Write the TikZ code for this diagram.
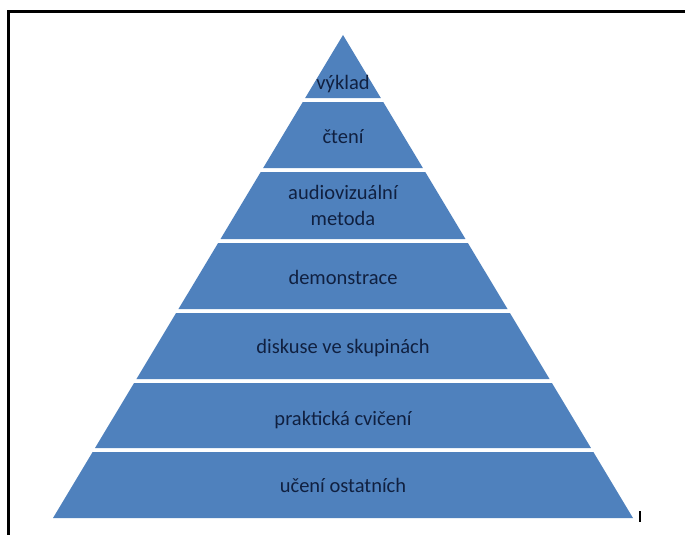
\documentclass[tikz,border=0pt]{standalone}
\usepackage{fontspec}
\setmainfont{Carlito}
\definecolor{pyr}{HTML}{4F81BD}
\definecolor{txt}{HTML}{102040}
\newcommand\pyrlayer[2]{\fill[pyr] ({343-(#1-35)*0.6004},#1) -- ({343+(#1-35)*0.6004},#1) -- ({343+(#2-35)*0.6004},#2) -- ({343-(#2-35)*0.6004},#2) -- cycle;}
\begin{document}
\begin{tikzpicture}[x=1pt,y=-1pt,
  lbl/.style={font=\fontsize{20.5}{26}\selectfont, text=txt, anchor=base, align=center, inner sep=0pt},
  frame/.style={draw=black, line width=2.5pt}]
\useasboundingbox (0,0) rectangle (685,535);
\fill[white] (0,0) rectangle (685,535);
% frame
\coordinate (fb) at (8.5,535);
\coordinate (fc) at (8.5,11.5);
\coordinate (fr) at (685,11.5);
\draw[frame] (fb) -- (fc) -- (fr);
% layers
\pyrlayer{35}{98}
\pyrlayer{102}{168}
\pyrlayer{172}{239}
\pyrlayer{243}{309}
\pyrlayer{313}{379}
\pyrlayer{383}{448}
\pyrlayer{452}{518}
% labels
\node[lbl] (t1) at (343,89) {výklad};
\node[lbl] (t2) at (343,143) {čtení};
\node[lbl] (t3) at (343,225) {audiovizuální\\metoda};
\node[lbl] (t4) at (343,284) {demonstrace};
\node[lbl] (t5) at (343,353) {diskuse ve skupinách};
\node[lbl] (t6) at (343,425) {praktická cvičení};
\node[lbl] (t7) at (343,492) {učení ostatních};
% small tick
\coordinate (k1) at (640,511);
\coordinate (k2) at (640,522);
\draw[line width=2pt] (k1) -- (k2);
\end{tikzpicture}
\end{document}
